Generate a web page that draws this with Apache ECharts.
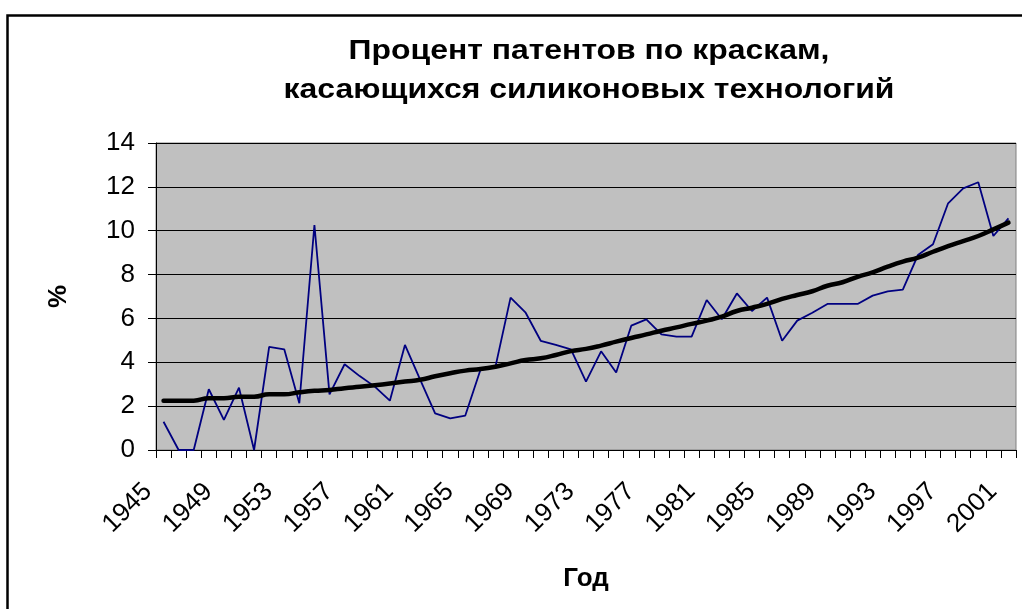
<!DOCTYPE html>
<html>
<head>
<meta charset="utf-8">
<script src="https://cdn.jsdelivr.net/npm/echarts@6/dist/echarts.min.js"></script>
<style>html,body{margin:0;padding:0;background:#fff;}#c{width:1022px;height:609px;}</style>
</head>
<body>
<div id="c"></div>
<script>
const years = [];
for (let y = 1945; y <= 2001; y++) years.push(String(y));

const percent = [1.29, 0, 0, 2.77, 1.37, 2.84, 0, 4.70, 4.59, 2.13,
  10.26, 2.54, 3.91, 3.37, 2.89, 2.25, 4.79, 3.22, 1.67, 1.44,
  1.57, 3.65, 3.80, 6.95, 6.26, 4.98, 4.79, 4.59, 3.12, 4.50,
  3.53, 5.67, 5.96, 5.27, 5.17, 5.17, 6.84, 5.96, 7.14, 6.34,
  6.95, 4.98, 5.90, 6.26, 6.66, 6.66, 6.66, 7.04, 7.23, 7.31,
  8.89, 9.38, 11.25, 11.93, 12.21, 9.76, 10.56];

const trend = [2.25, 2.25, 2.25, 2.36, 2.36, 2.43, 2.43, 2.54, 2.54, 2.63,
  2.70, 2.74, 2.82, 2.88, 2.95, 3.03, 3.12, 3.20, 3.36, 3.50,
  3.62, 3.69, 3.80, 3.95, 4.10, 4.18, 4.33, 4.51, 4.61, 4.76,
  4.94, 5.11, 5.27, 5.44, 5.59, 5.75, 5.90, 6.08, 6.34, 6.49,
  6.66, 6.89, 7.07, 7.24, 7.49, 7.65, 7.90, 8.10, 8.36, 8.59,
  8.77, 9.04, 9.30, 9.53, 9.76, 10.06, 10.37];

const titleLines = ['Процент патентов по краскам,', 'касающихся силиконовых технологий'];
const xName = 'Год';
const yName = '%';

const FONT = '"Liberation Sans", Arial, sans-serif';
const chart = echarts.init(document.getElementById('c'), null, {renderer: 'canvas'});
chart.setOption({
  animation: false,
  backgroundColor: '#ffffff',
  graphic: [{
    type: 'rect', left: 5, top: 13, silent: true, z: 100,
    shape: {width: 1100, height: 700},
    style: {fill: 'none', stroke: '#000', lineWidth: 2.5}
  }, {
    type: 'text', x: 589, y: 51, scaleX: 1.14, silent: true,
    style: {text: titleLines[0], fill: '#000', font: 'bold 28px ' + FONT, textAlign: 'center', textVerticalAlign: 'middle'}
  }, {
    type: 'text', x: 589, y: 90, scaleX: 1.14, silent: true,
    style: {text: titleLines[1], fill: '#000', font: 'bold 28px ' + FONT, textAlign: 'center', textVerticalAlign: 'middle'}
  }],
  grid: {
    left: 156, top: 143, right: 6, bottom: 159,
    show: true, backgroundColor: '#C0C0C0', borderColor: '#808080', borderWidth: 1
  },
  xAxis: {
    type: 'category', data: years, boundaryGap: true,
    name: xName, nameLocation: 'middle', nameGap: 116,
    nameTextStyle: {fontFamily: FONT, fontSize: 26, fontWeight: 'bold', color: '#000'},
    axisLine: {show: true, lineStyle: {color: '#000', width: 1}},
    axisTick: {show: true, interval: 0, length: 8, lineStyle: {color: '#000'}},
    axisLabel: {interval: 3, rotate: 45, margin: 22, padding: [0, 22, 0, 0], fontFamily: FONT, fontSize: 26, color: '#000'},
    splitLine: {show: false}
  },
  yAxis: {
    type: 'value', min: 0, max: 14, interval: 2,
    name: yName, nameLocation: 'middle', nameGap: 84, nameRotate: 90,
    nameTextStyle: {fontFamily: FONT, fontSize: 26, fontWeight: 'bold', color: '#000'},
    axisLine: {show: true, lineStyle: {color: '#000', width: 1}},
    axisTick: {show: true, length: 8, lineStyle: {color: '#000'}},
    axisLabel: {margin: 21, fontFamily: FONT, fontSize: 26, color: '#000'},
    splitLine: {show: true, lineStyle: {color: '#000', width: 1}}
  },
  series: [{
    name: 'percent', type: 'line', data: percent, symbol: 'none',
    lineStyle: {color: '#000080', width: 1.8}, z: 3
  }, {
    name: 'trend', type: 'line', data: trend, symbol: 'none', smooth: true,
    lineStyle: {color: '#000', width: 4.5, cap: 'round'}, z: 4
  }]
});
</script>
</body>
</html>
